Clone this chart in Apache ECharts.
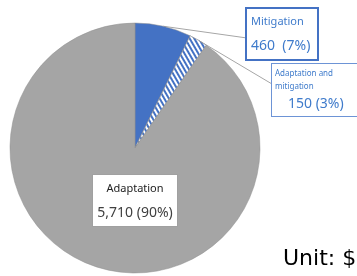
<!DOCTYPE html>
<html>
<head>
<meta charset="utf-8">
<script src="https://cdn.jsdelivr.net/npm/echarts@6/dist/echarts.min.js"></script>
<style>
  html, body { margin: 0; padding: 0; background: #fff; }
  #chart { width: 357px; height: 276px; }
</style>
</head>
<body>
<div id="chart"></div>
<script>
// data
let categories = ['Mitigation', 'Adaptation and mitigation', 'Adaptation']
let labelNames = ['Mitigation', 'Adaptation and\nmitigation', 'Adaptation']
let values = [460, 150, 5710]
let percents = ['7%', '3%', '90%']
let unitText = 'Unit: $1 million'

let chart = echarts.init(document.getElementById('chart'))

// label boxes
let labelBoxes = [
  { x: 247, y: 9, line: [247, 38] },
  { x: 272, y: 64, line: [272, 84] },
  { x: 93, y: 175 }
]

function fmt (n) {
  return n.toLocaleString('en-US')
}

let richMit = {
  name: { fontSize: 11, color: '#3F7BCB', lineHeight: 22, align: 'left' },
  val: { fontSize: 14, color: '#3F7BCB', lineHeight: 26, align: 'left' }
}
let richBoth = {
  name: { fontSize: 8, color: '#3F7BCB', lineHeight: 13, align: 'left' },
  val: { fontSize: 14, color: '#3F7BCB', lineHeight: 22, align: 'left', padding: [0, 0, 0, 13] }
}
let richAd = {
  name: { fontSize: 11, color: '#222', lineHeight: 24, align: 'center' },
  val: { fontSize: 14, color: '#404040', lineHeight: 24, align: 'center' }
}

let data = categories.map((c, i) => {
  let d = { name: c, value: values[i] }
  if (i === 0) {
    d.itemStyle = { color: '#4472C4' }
    d.label = {
      formatter: '{name|' + labelNames[0] + '}\n{val|' + fmt(values[0]) + '  (' + percents[0] + ')}',
      rich: richMit,
      backgroundColor: '#fff',
      borderColor: '#4472C4',
      borderWidth: 2,
      padding: [2, 4, 0, 4],
      width: 62,
      overflow: 'none'
    }
  } else if (i === 1) {
    d.itemStyle = {
      color: '#4472C4',
      decal: {
        symbol: 'rect',
        color: '#fff',
        dashArrayX: [1, 0],
        dashArrayY: [1.5, 1.5],
        rotation: Math.PI / 3
      }
    }
    d.label = {
      formatter: labelNames[1].split('\n').map(s => '{name|' + s + '}').join('\n') +
        '\n{val|' + fmt(values[1]) + ' (' + percents[1] + ')}',
      rich: richBoth,
      backgroundColor: '#fff',
      borderColor: '#6D94D6',
      borderWidth: 1,
      padding: [3, 4, 1, 3],
      width: 90,
      overflow: 'none'
    }
  } else {
    d.itemStyle = { color: '#A5A5A5' }
    d.label = {
      formatter: '{name|' + labelNames[2] + '}\n{val|' + fmt(values[2]) + ' (' + percents[2] + ')}',
      rich: richAd,
      backgroundColor: '#fff',
      borderColor: '#A0A0A0',
      borderWidth: 1,
      padding: [2, 4, 1, 4],
      width: 76,
      overflow: 'none'
    }
    d.labelLine = { show: false }
  }
  return d
})

let option = {
  animation: false,
  textStyle: { fontFamily: 'Noto Sans' },
  series: [{
    type: 'pie',
    center: [135, 148],
    radius: 125,
    startAngle: 90,
    clockwise: true,
    data: data,
    itemStyle: { borderColor: '#8f8f8f', borderWidth: 0.5 },
    label: { show: true, position: 'outside' },
    labelLine: {
      show: true,
      length: 10,
      length2: 10,
      lineStyle: { color: '#A6A6A6', width: 1 }
    },
    labelLayout: function (params) {
      let b = labelBoxes[params.dataIndex]
      let res = { x: b.x, y: b.y, align: 'left', verticalAlign: 'top' }
      if (b.line && params.labelLinePoints) {
        let p0 = params.labelLinePoints[0]
        res.labelLinePoints = [p0, b.line, b.line]
      }
      return res
    }
  }],
  graphic: [{
    type: 'text',
    left: 283,
    top: 248,
    style: { text: unitText, fontSize: 22, fill: '#000', fontFamily: 'DejaVu Sans' }
  }]
}

chart.setOption(option)
</script>
</body>
</html>
